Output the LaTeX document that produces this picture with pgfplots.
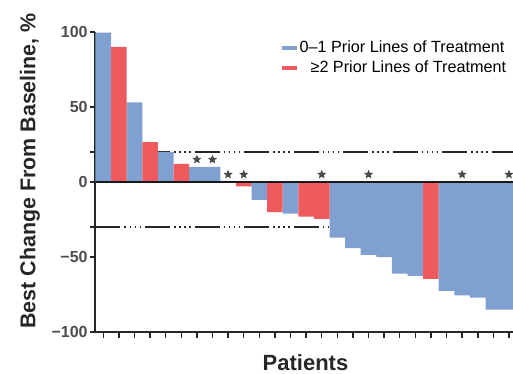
\documentclass[border=0pt]{standalone}
\usepackage{fontspec}
\setmainfont{Liberation Sans}
\usepackage{pgfplots}
\pgfplotsset{compat=1.18}
\definecolor{cblue}{HTML}{7FA0D0}
\definecolor{cred}{HTML}{EE5A5E}
\definecolor{cstar}{HTML}{4A4A4A}
\pgfdeclareplotmark{fstar}{%
  \pgfpathmoveto{\pgfpointpolar{90}{\pgfplotmarksize}}%
  \pgfpathlineto{\pgfpointpolar{126}{0.45\pgfplotmarksize}}%
  \pgfpathlineto{\pgfpointpolar{162}{\pgfplotmarksize}}%
  \pgfpathlineto{\pgfpointpolar{198}{0.45\pgfplotmarksize}}%
  \pgfpathlineto{\pgfpointpolar{234}{\pgfplotmarksize}}%
  \pgfpathlineto{\pgfpointpolar{270}{0.45\pgfplotmarksize}}%
  \pgfpathlineto{\pgfpointpolar{306}{\pgfplotmarksize}}%
  \pgfpathlineto{\pgfpointpolar{342}{0.45\pgfplotmarksize}}%
  \pgfpathlineto{\pgfpointpolar{18}{\pgfplotmarksize}}%
  \pgfpathlineto{\pgfpointpolar{54}{0.45\pgfplotmarksize}}%
  \pgfpathclose
  \pgfusepathqfill
}
\tikzset{refline/.style={black!85, line width=0.75pt,
  dash pattern=on 12.5pt off 2pt on 0.75pt off 1.75pt on 0.75pt off 1.75pt on 0.75pt off 1.75pt on 0.75pt off 2pt}}
\begin{document}
\begin{tikzpicture}
\begin{axis}[
  at={(0,0)}, anchor=south west,
  scale only axis, width=208.75pt, height=150pt,
  xmin=-0.5, xmax=26.26, ymin=-100, ymax=100,
  axis x line*=bottom, axis y line*=left,
  axis line style={-, line width=1pt, black!85},
  xtick={0,...,26}, xticklabels={},
  ytick={-100,-50,0,50,100},
  yticklabels={−100,−50,0,50,100},
  extra y ticks={20,-30}, extra y tick labels={},
  tick align=outside,
  major tick length=2.75pt,
  every tick/.style={black!85, line width=0.75pt},
  yticklabel style={font=\fontsize{8}{9}\selectfont\bfseries, text=black!70, inner sep=1pt},
  xlabel={Patients},
  xlabel style={at={(axis description cs:0.503,-0.103)}, anchor=center, font=\fontsize{11}{12}\selectfont\bfseries, text=black!85},
  ylabel={Best Change From Baseline, \%},
  ylabel style={at={(axis description cs:-0.157,0.537)}, anchor=center, font=\fontsize{10.7}{12}\selectfont\bfseries, text=black!85},
  legend style={at={(axis description cs:0.44,0.975)}, anchor=north west, draw=none, fill=none,
    font=\fontsize{8.1}{9.5}\selectfont, inner sep=0pt, row sep=1.5pt, column sep=0pt,
    nodes={inner sep=0.5pt}},
  legend cell align=left,
  legend image code/.code={\draw[#1, line width=2pt] (0pt,0pt) -- (7.5pt,0pt);},
]
\addlegendimage{cblue}
\addlegendentry{0–1 Prior Lines of Treatment}
\addlegendimage{cred}
\addlegendentry{\hspace{5.5pt}≥2 Prior Lines of Treatment}
\addplot[refline, forget plot] coordinates {(-0.5,20) (26.5,20)};
\addplot[refline, forget plot] coordinates {(-0.5,-30) (26.5,-30)};
\addplot[ybar, bar width=1, bar shift=0, fill=cblue, draw=none, forget plot] coordinates {
 (0,99.5) (2,53) (4,20) (6,10) (7,10) (8,0.8) (10,-12) (12,-21) (15,-37) (16,-44)
 (17,-48.5) (18,-50) (19,-61) (20,-62.5) (22,-72.5) (23,-75.5) (24,-77) (25,-85) (26,-85)};
\addplot[ybar, bar width=1, bar shift=0, fill=cred, draw=none, forget plot] coordinates {
 (1,90) (3,26.5) (5,12) (9,-3) (11,-20) (13,-23) (14,-24.5) (21,-64.5)};
\addplot[black!90, line width=1pt, forget plot] coordinates {(-0.5,0) (26.5,0)};
\addplot[only marks, mark=fstar, mark size=2.4pt, color=cstar, forget plot] coordinates {
 (6,15) (7,15) (8,5) (9,5) (14,5) (17,5) (23,5) (26,5)};
\end{axis}
\pgfresetboundingbox
\useasboundingbox (-47.75pt,-21pt) rectangle (208.75pt,166pt);
\end{tikzpicture}
\end{document}
